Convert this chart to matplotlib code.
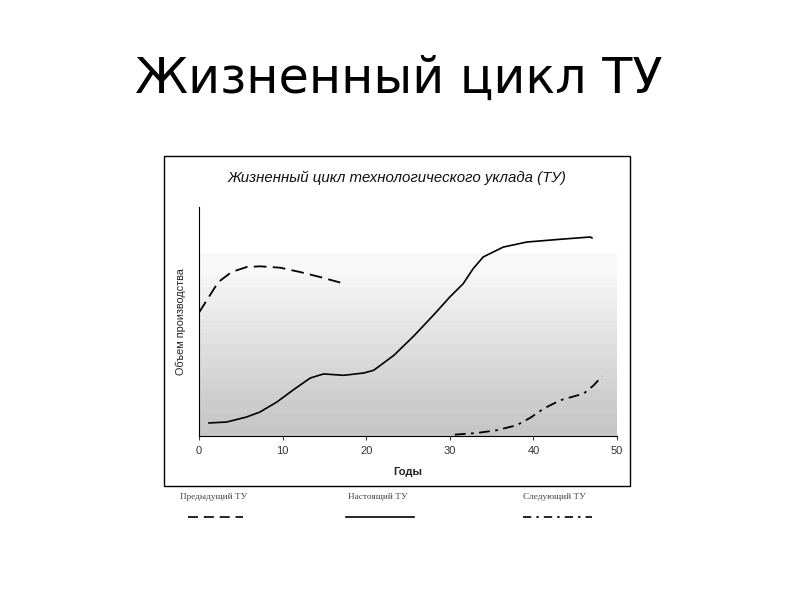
import numpy as np
import matplotlib
matplotlib.use("Agg")
import matplotlib.pyplot as plt
from matplotlib.patches import Rectangle
from matplotlib.lines import Line2D

# Data
prev_x = [0, 2.3, 3.9, 5.7, 7.3, 9.7, 12.1, 14.5, 16.9]
prev_y = [53.9, 67.2, 71.6, 73.8, 74.1, 73.5, 71.6, 69.4, 67.0]

cur_x = [1.2, 3.3, 5.7, 7.3, 9.3, 11.3, 13.3, 14.9, 17.3, 19.7, 20.9, 23.3, 25.7,
         28.1, 30.0, 31.6, 32.8, 34.0, 36.4, 39.2, 43.2, 46.8, 47.0]
cur_y = [5.7, 6.1, 8.3, 10.5, 14.8, 20.2, 25.3, 27.1, 26.5, 27.5, 28.7, 35.2, 43.7,
         53.0, 60.7, 66.5, 73.1, 78.2, 82.5, 84.7, 85.9, 86.9, 86.5]

next_x = [30.6, 33.2, 35.6, 38.0, 39.6, 41.2, 43.2, 46.0, 47.2, 48.2]
next_y = [0.6, 1.3, 2.5, 4.7, 7.9, 11.9, 15.6, 18.5, 22.1, 26.1]

xticks = [0, 10, 20, 30, 40, 50]
legend_labels = ["Предыдущий ТУ", "Настоящий ТУ", "Следующий ТУ"]

W, H = 800, 600
fig = plt.figure(figsize=(8, 6), dpi=100)
fig.patch.set_facecolor("white")

def fx(px):
    return px / W

def fy(py):
    return 1 - py / H

# Slide title
fig.text(fx(399), fy(93), "Жизненный цикл ТУ", ha="center", va="baseline",
         fontsize=35.5, family="DejaVu Sans", color="black")

# Outer chart box
box = Rectangle((fx(164), fy(486)), fx(630) - fx(164), fy(156) - fy(486),
                transform=fig.transFigure, fill=False, edgecolor="black", lw=1.0)
fig.add_artist(box)

# Chart title
fig.text(fx(397), fy(182), "Жизненный цикл технологического уклада (ТУ)",
         ha="center", va="baseline", fontsize=10.8, style="italic",
         family="Liberation Sans", color="#111111")

# Axes
left, right, top, bottom = 199, 617, 207, 436
ax = fig.add_axes([fx(left), fy(bottom), fx(right) - fx(left), fy(top) - fy(bottom)])
ax.set_xlim(0, 50)
ax.set_ylim(0, 100)

# stepped gradient background
levels = np.array([1.0, 1.0, 1.0, 1.0, 0.975, 0.975, 0.96, 0.945, 0.93, 0.915,
                   0.90, 0.885, 0.87, 0.855, 0.84, 0.825, 0.81, 0.80, 0.79, 0.78])
grad = levels[:, None] * np.ones((1, 2))
img = np.dstack([grad, grad, grad])
ax.imshow(img, extent=[0, 50, 0, 100], origin="upper", aspect="auto",
          interpolation="nearest", zorder=0)

ax.plot(prev_x, prev_y, color="black", lw=1.3, ls=(0, (7, 3.5)), zorder=3)
ax.plot(cur_x, cur_y, color="black", lw=1.2, ls="-", zorder=3)
ax.plot(next_x, next_y, color="black", lw=1.3, ls=(0, (6, 3, 1.5, 3)), zorder=3)

ax.set_xticks(xticks)
ax.set_xticklabels([str(t) for t in xticks], fontsize=8, color="#333333",
                   family="Liberation Sans")
ax.set_yticks([])
ax.tick_params(axis="x", length=3, width=0.8, pad=4, color="#444444")
for s in ["top", "right"]:
    ax.spines[s].set_visible(False)
ax.spines["left"].set_linewidth(0.8)
ax.spines["bottom"].set_linewidth(0.8)
ax.set_xlabel("Годы", fontsize=8, fontweight="bold", labelpad=8,
              family="Liberation Sans", color="#222222")
ax.set_ylabel("Объем производства", fontsize=7.8, labelpad=9,
              family="Liberation Sans", color="#222222")

# Legend below
lx = [(180, 188, 243), (348, 346, 414), (523, 523, 592)]
styles = [(0, (6, 3.5)), "-", (0, (5, 3, 1.5, 3))]
for (tx, x0, x1), lab, st in zip(lx, legend_labels, styles):
    fig.text(fx(tx), fy(499), lab, ha="left", va="baseline", fontsize=6.7,
             family="Liberation Serif", color="#444444")
    fig.add_artist(Line2D([fx(x0), fx(x1)], [fy(517), fy(517)],
                          transform=fig.transFigure, color="black", lw=1.2, ls=st))

fig.savefig("out.png", dpi=100)
